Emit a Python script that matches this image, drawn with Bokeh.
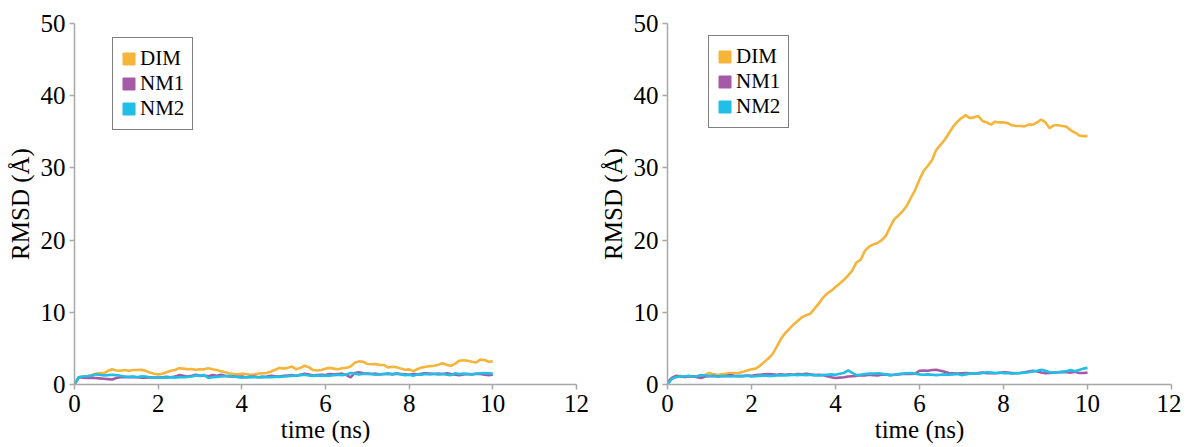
from bokeh.plotting import figure
from bokeh.layouts import row
from bokeh.models import Range1d, FixedTicker, Legend, LegendItem
from bokeh.embed import file_html
from bokeh.resources import INLINE

# ---------------- data ----------------
time_ns = [i / 10 for i in range(101)]

left_dim = [0.0, 1.0, 1.1, 1.15, 1.3, 1.5, 1.6, 1.55, 1.9, 2.1,
            1.95, 1.9, 2.0, 1.9, 2.0, 2.0, 2.05, 1.9, 1.65, 1.5,
            1.4, 1.5, 1.7, 1.9, 2.0, 2.25, 2.2, 2.1, 2.15, 2.05,
            2.1, 2.1, 2.25, 2.1, 2.0, 1.85, 1.7, 1.55, 1.45, 1.4,
            1.5, 1.45, 1.35, 1.4, 1.5, 1.55, 1.6, 1.8, 2.05, 2.3,
            2.2, 2.3, 2.5, 2.1, 2.3, 2.6, 2.4, 2.0, 1.95, 2.0,
            2.2, 2.3, 2.2, 2.1, 2.25, 2.3, 2.5, 3.0, 3.2, 3.15,
            2.85, 2.8, 2.85, 2.7, 2.7, 2.35, 2.45, 2.4, 2.2, 2.05,
            2.1, 1.85, 2.15, 2.35, 2.45, 2.55, 2.6, 2.75, 2.95, 2.7,
            2.6, 2.9, 3.3, 3.35, 3.3, 3.15, 3.05, 3.45, 3.4, 3.15,
            3.2]
left_nm1 = [0.0, 1.0, 0.95, 0.9, 0.95, 0.9, 0.85, 0.8, 0.75, 0.7,
            0.9, 1.0, 1.05, 1.0, 1.05, 1.0, 0.95, 0.95, 1.0, 0.95,
            0.95, 1.0, 1.05, 1.0, 1.1, 1.3, 1.2, 1.1, 1.2, 1.35,
            1.2, 1.25, 1.15, 1.3, 1.2, 1.35, 1.2, 1.1, 1.15, 1.05,
            1.1, 1.0, 1.05, 1.1, 1.0, 1.05, 1.1, 1.2, 1.15, 1.1,
            1.2, 1.25, 1.3, 1.2, 1.35, 1.5, 1.4, 1.25, 1.3, 1.35,
            1.3, 1.45, 1.4, 1.45, 1.5, 1.3, 1.0, 1.6, 1.7, 1.55,
            1.5, 1.45, 1.5, 1.4, 1.45, 1.5, 1.4, 1.5, 1.45, 1.4,
            1.35, 1.45, 1.4, 1.5, 1.55, 1.5, 1.45, 1.5, 1.45, 1.55,
            1.45, 1.35, 1.3, 1.4, 1.45, 1.4, 1.5, 1.45, 1.35, 1.3,
            1.35]
left_nm2 = [0.0, 1.0, 1.1, 1.15, 1.2, 1.4, 1.35, 1.25, 1.3, 1.35,
            1.3, 1.2, 1.1, 1.05, 1.1, 1.0, 1.15, 1.1, 1.0, 0.95,
            0.95, 0.95, 0.95, 1.0, 0.95, 1.0, 1.0, 1.05, 1.1, 1.25,
            1.2, 1.3, 0.9, 1.0, 1.05, 1.1, 1.15, 1.2, 1.1, 1.05,
            0.95, 1.0, 1.05, 1.0, 1.0, 1.05, 1.0, 1.0, 1.05, 1.05,
            1.1, 1.15, 1.2, 1.25, 1.3, 1.35, 1.25, 1.2, 1.25, 1.2,
            1.25, 1.2, 1.3, 1.35, 1.3, 1.4, 1.6, 1.5, 1.4, 1.45,
            1.5, 1.45, 1.35, 1.4, 1.45, 1.5, 1.45, 1.55, 1.4, 1.3,
            1.35, 1.2, 1.4, 1.35, 1.45, 1.4, 1.5, 1.4, 1.45, 1.35,
            1.3, 1.55, 1.45, 1.5, 1.45, 1.4, 1.5, 1.55, 1.6, 1.55,
            1.5]

right_dim = [0.2, 0.8, 1.1, 1.2, 1.05, 1.1, 1.1, 1.15, 1.2, 1.35,
             1.6, 1.4, 1.3, 1.4, 1.5, 1.6, 1.6, 1.6, 1.75, 1.95,
             2.1, 2.2, 2.6, 3.1, 3.6, 4.2, 5.2, 6.3, 7.1, 7.7,
             8.3, 8.8, 9.3, 9.6, 9.8, 10.5, 11.2, 12.0, 12.6, 13.0,
             13.5, 14.0, 14.5, 15.1, 15.8, 16.9, 17.3, 18.5, 19.1, 19.4,
             19.6, 20.0, 20.6, 21.8, 22.9, 23.4, 24.0, 24.8, 25.9, 27.0,
             28.4, 29.6, 30.3, 31.1, 32.5, 33.2, 33.9, 34.8, 35.7, 36.4,
             36.9, 37.3, 36.9, 37.0, 37.2, 36.5, 36.3, 36.0, 36.4, 36.3,
             36.3, 36.2, 35.9, 35.8, 35.8, 35.75, 36.0, 36.0, 36.3, 36.7,
             36.3, 35.5, 35.9, 35.9, 35.8, 35.7, 35.2, 34.9, 34.5, 34.4,
             34.4]
right_nm1 = [0.3, 0.9, 1.2, 1.1, 1.05, 1.1, 1.15, 1.0, 0.9, 1.1,
             1.15, 1.2, 1.1, 1.15, 1.2, 1.3, 1.2, 1.15, 1.2, 1.25,
             1.2, 1.3, 1.35, 1.4, 1.45, 1.4, 1.35, 1.4, 1.35, 1.4,
             1.35, 1.45, 1.4, 1.5, 1.4, 1.3, 1.35, 1.3, 1.15, 1.0,
             0.9, 0.95, 1.0, 1.1, 1.15, 1.2, 1.3, 1.25, 1.35, 1.3,
             1.25, 1.35, 1.4, 1.3, 1.35, 1.4, 1.45, 1.5, 1.45, 1.5,
             1.9, 1.95, 1.9, 2.0, 2.05, 1.9, 1.75, 1.6, 1.55, 1.5,
             1.55, 1.6, 1.55, 1.5, 1.6, 1.65, 1.55, 1.6, 1.55, 1.6,
             1.7, 1.65, 1.6, 1.55, 1.6, 1.7, 1.8, 1.9, 1.8, 1.65,
             1.55, 1.6, 1.65, 1.7, 1.75, 1.7, 1.65, 1.75, 1.6, 1.6,
             1.65]
right_nm2 = [0.0, 0.8, 1.0, 1.15, 1.1, 1.2, 1.1, 1.15, 1.3, 1.25,
             1.2, 1.15, 1.1, 1.2, 1.15, 1.1, 1.15, 1.2, 1.15, 1.2,
             1.1, 1.15, 1.2, 1.25, 1.2, 1.2, 1.25, 1.3, 1.25, 1.3,
             1.35, 1.3, 1.35, 1.3, 1.35, 1.3, 1.25, 1.3, 1.35, 1.4,
             1.35, 1.5, 1.6, 1.95, 1.6, 1.3, 1.35, 1.45, 1.5, 1.5,
             1.55, 1.5, 1.4, 1.3, 1.35, 1.45, 1.5, 1.55, 1.6, 1.5,
             1.4, 1.35, 1.4, 1.35, 1.3, 1.35, 1.4, 1.35, 1.4, 1.45,
             1.3, 1.4, 1.5, 1.55, 1.5, 1.6, 1.7, 1.65, 1.6, 1.65,
             1.55, 1.6, 1.5, 1.55, 1.6, 1.65, 1.7, 1.8, 1.9, 2.05,
             1.9, 1.7, 1.65, 1.7, 1.75, 1.85, 2.0, 1.85, 2.0, 2.2,
             2.3]

series_names = ["DIM", "NM1", "NM2"]
series_colors = ["#F5B43A", "#A55AA7", "#21BEE6"]
x_ticks = [0, 2, 4, 6, 8, 10, 12]
y_ticks = [0, 10, 20, 30, 40, 50]

FONT = "Liberation Serif"
AXIS_GRAY = "#a8a8a8"
NAN = float("nan")


def make_panel(dim, nm1, nm2, width, border_left, border_right, legend_loc):
    p = figure(width=width, height=445,
               x_range=Range1d(0, 12), y_range=Range1d(0, 50),
               output_backend="svg", toolbar_location=None,
               min_border_left=border_left, min_border_right=border_right,
               min_border_top=23, min_border_bottom=60)
    p.xgrid.visible = False
    p.ygrid.visible = False
    p.outline_line_color = None
    p.background_fill_color = "white"

    p.xaxis.ticker = FixedTicker(ticks=x_ticks)
    p.yaxis.ticker = FixedTicker(ticks=y_ticks)
    p.xaxis.axis_label = "time (ns)"
    p.yaxis.axis_label = "RMSD (Å)"
    for ax in (p.xaxis, p.yaxis):
        ax.axis_line_color = AXIS_GRAY
        ax.axis_line_width = 1.5
        ax.major_tick_line_color = AXIS_GRAY
        ax.major_tick_line_width = 1.5
        ax.major_tick_out = 5
        ax.major_tick_in = 0
        ax.minor_tick_line_color = None
        ax.major_label_text_font = FONT
        ax.major_label_text_font_size = "25px"
        ax.major_label_text_color = "black"
        ax.axis_label_text_font = FONT
        ax.axis_label_text_font_size = "25px"
        ax.axis_label_text_font_style = "normal"
        ax.axis_label_text_color = "black"
    p.xaxis.major_label_standoff = 5
    p.xaxis.axis_label_standoff = 1
    p.yaxis.major_label_standoff = 4
    p.yaxis.axis_label_standoff = 4

    items = []
    for name, col, ys in zip(series_names, series_colors, [dim, nm1, nm2]):
        p.line(time_ns, ys, line_color=col, line_width=2.6)
        sw = p.quad(left=[NAN], right=[NAN], top=[NAN], bottom=[NAN],
                    fill_color=col, line_color=col)
        items.append(LegendItem(label=name, renderers=[sw]))

    legend = Legend(items=items, location=legend_loc,
                    border_line_color="black", border_line_width=1.5,
                    background_fill_color="white", background_fill_alpha=1,
                    label_text_font=FONT, label_text_font_size="21px",
                    label_text_color="black",
                    glyph_width=15, glyph_height=15, label_height=20,
                    label_standoff=4, spacing=0, padding=8, margin=0)
    p.add_layout(legend, "center")
    return p


p1 = make_panel(left_dim, left_nm1, left_nm2, 596, 74, 20, (38, 254))
p2 = make_panel(right_dim, right_nm1, right_nm2, 585, 71, 10, (41, 256))

layout = row(p1, p2)
open("out.html", "w").write(file_html(layout, INLINE))
